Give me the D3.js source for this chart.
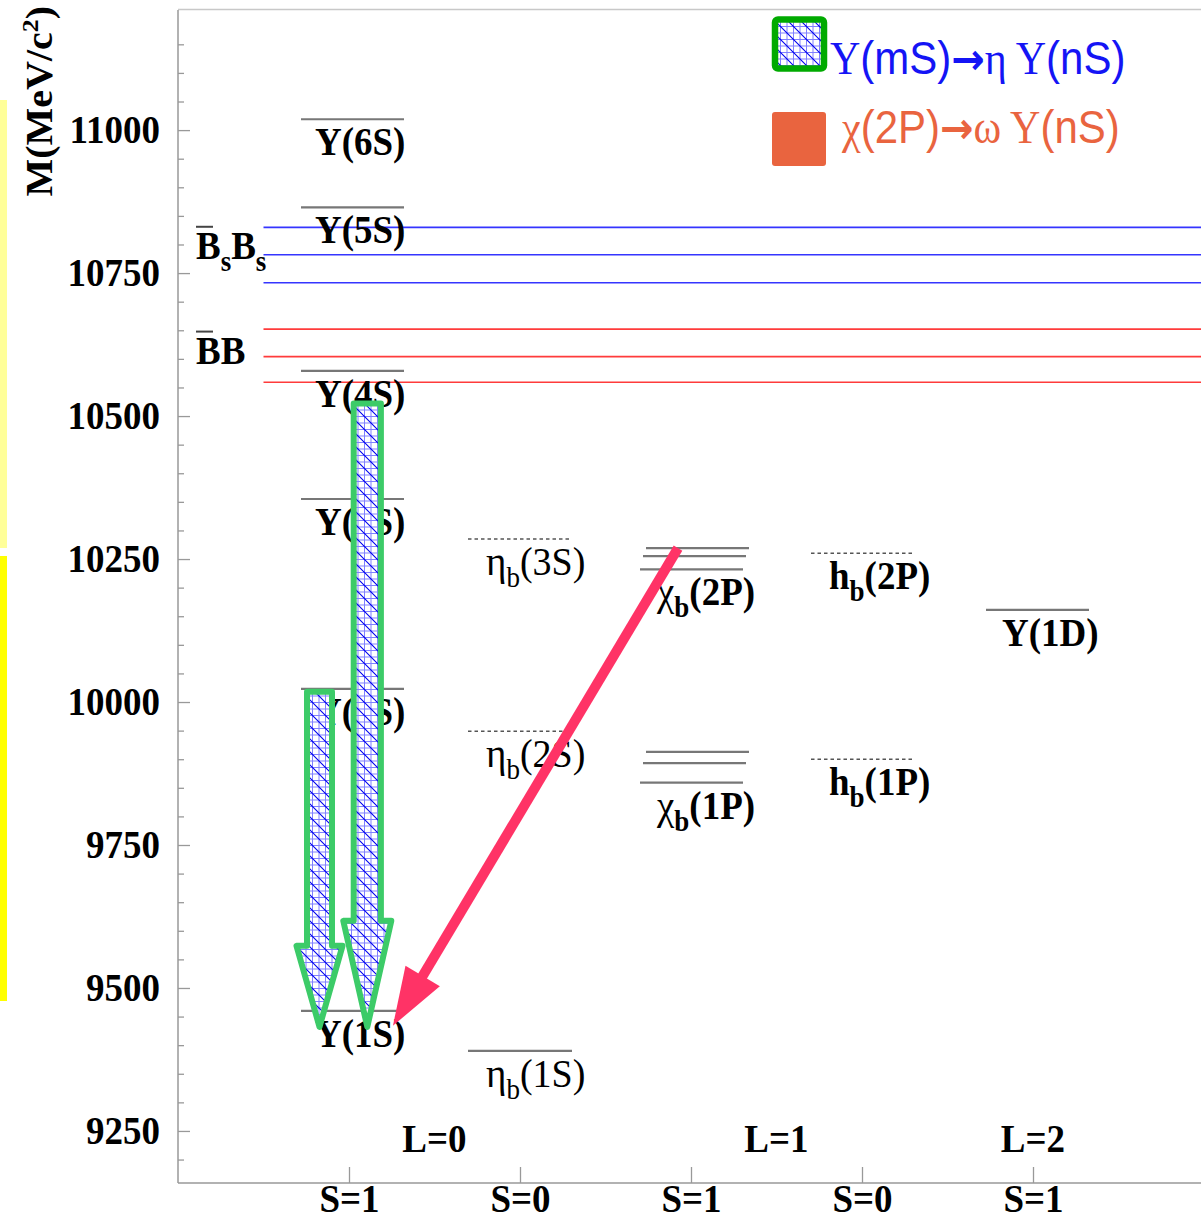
<!DOCTYPE html>
<html>
<head>
<meta charset="utf-8">
<script src="https://cdn.jsdelivr.net/npm/d3@7"></script>
<style>
  html, body { margin: 0; padding: 0; background: #fff; }
  svg { display: block; }
</style>
</head>
<body>
<svg id="chart" width="1201" height="1223"></svg>
<script>
// ---- Bottomonium spectrum data (masses in MeV/c^2) ----
const columnTicks  = [1, 2, 3, 4, 5];
const columnLabels = ["S=1", "S=0", "S=1", "S=0", "S=1"];
const orbitalLabels = ["L=0", "L=1", "L=2"];
const orbitalPos    = [1.5, 3.5, 5];

const massTicksMajor = [9250, 9500, 9750, 10000, 10250, 10500, 10750, 11000];
const massTicksMinor = [9200, 9300, 9350, 9400, 9450, 9550, 9600, 9650, 9700, 9800, 9850, 9900, 9950,
                        10050, 10100, 10150, 10200, 10300, 10350, 10400, 10450, 10550, 10600, 10650,
                        10700, 10800, 10850, 10900, 10950, 11050, 11100, 11150];

const upsilonStates = ["1S", "2S", "3S", "4S", "5S", "6S"];
const upsilonMasses = [9460, 10023, 10355, 10579, 10865, 11019];

const etaStates = ["1S", "2S", "3S"];
const etaMasses = [9390, 9949, 10285];

const chiStates = ["1P", "2P"];
const chiMasses = [[9859, 9893, 9913], [10232, 10255, 10269]];

const hStates = ["1P", "2P"];
const hMasses = [9900, 10260];

const dStates = ["1D"];
const dMasses = [10161];

// open-flavour thresholds
const bsThresholds = [10733, 10782, 10830];
const bThresholds  = [10559, 10604, 10652];

// transitions: Υ(mS) → η Υ(1S) and χb(2P) → ω Υ(1S)
const etaFrom = [10018, 10522];
const etaTo   = [9432, 9432];
const etaPos  = [0.8275, 1.107];
const omegaFrom = [10269];
const omegaFromPos = [2.924];
const omegaTo = [9434];
const omegaToPos = [1.257];

// ---- Layout ----
const W = 1201, H = 1223;
const SERIF = "'Liberation Serif','Times New Roman',serif";
const SANS  = "'Liberation Sans',Arial,Helvetica,sans-serif";
const ARROW = "'DejaVu Sans',sans-serif";
const SY = 1.08;           // glyphs are drawn slightly tall
const FS = 37;             // main label size
const SUB = 27;            // subscript size

const svg = d3.select("#chart");
const x = d3.scaleLinear().domain([0, 6]).range([178, 1204]);
const y = d3.scaleLinear().domain([9159, 11210]).range([1183, 10]);

const defs = svg.append("defs");
const pat = defs.append("pattern").attr("id", "hatch")
  .attr("patternUnits", "userSpaceOnUse").attr("width", 13).attr("height", 13);
pat.append("rect").attr("width", 13).attr("height", 13).attr("fill", "#fff");
pat.append("path").attr("d", "M0,0.5H13M0,7H13M0.5,0V13M7,0V13")
  .attr("stroke", "#8080ff").attr("stroke-width", 1).attr("fill", "none");
pat.append("path").attr("d", "M0,0L13,13M-2,11L2,15M11,-2L15,2")
  .attr("stroke", "#0000f0").attr("stroke-width", 1.1).attr("fill", "none");

// side colour strips
svg.append("rect").attr("x", 0).attr("y", 100).attr("width", 7).attr("height", 448).attr("fill", "#ffff99");
svg.append("rect").attr("x", 0).attr("y", 556).attr("width", 7).attr("height", 445).attr("fill", "#ffff00");

// frame top
svg.append("line").attr("x1", x(0)).attr("x2", W).attr("y1", 9.5).attr("y2", 9.5)
  .attr("stroke", "#c8c8c8").attr("stroke-width", 1.5);

// ---- Axes ----
const yMinor = svg.append("g").attr("transform", `translate(${x(0)},0)`)
  .call(d3.axisLeft(y).tickValues(massTicksMinor).tickSize(-6).tickFormat(""));
const yMajor = svg.append("g").attr("transform", `translate(${x(0)},0)`)
  .call(d3.axisLeft(y).tickValues(massTicksMajor).tickSize(-12).tickPadding(18).tickFormat(d3.format("d")));
[yMinor, yMajor].forEach(g => {
  g.select(".domain").attr("stroke", "#999").attr("stroke-width", 1.5);
  g.selectAll(".tick line").attr("stroke", "#999").attr("stroke-width", 1.3);
});
yMajor.select(".domain").attr("d", `M0,${y.range()[1]}V${y.range()[0]}`);
yMinor.select(".domain").remove();
yMajor.selectAll(".tick text")
  .attr("font-family", SERIF).attr("font-weight", "bold").attr("font-size", FS).attr("fill", "#000")
  .attr("transform", `scale(1,${SY})`);

const xAxis = svg.append("g").attr("transform", `translate(0,${y.range()[0]})`)
  .call(d3.axisBottom(x).tickValues(columnTicks).tickSize(-16).tickPadding(1)
    .tickFormat((d, i) => columnLabels[i]));
xAxis.select(".domain").attr("d", `M${x(0)},0H${W}`).attr("stroke", "#999").attr("stroke-width", 1.5);
xAxis.selectAll(".tick line").attr("stroke", "#999").attr("stroke-width", 1.3);
xAxis.selectAll(".tick text")
  .attr("font-family", SERIF).attr("font-weight", "bold").attr("font-size", FS).attr("fill", "#000")
  .attr("transform", `scale(1,${SY})`);

// axis title
const title = svg.append("text")
  .attr("transform", `translate(52,6) scale(1,${SY}) rotate(-90)`)
  .attr("text-anchor", "end")
  .attr("font-family", SERIF).attr("font-weight", "bold").attr("font-size", FS);
title.append("tspan").text("M(MeV/c");
title.append("tspan").attr("font-size", 24).attr("dy", -14).text("2");
title.append("tspan").attr("dy", 14).text(")");

// ---- Helpers ----
function richText(px, py, parts, opts = {}) {
  const t = svg.append("text")
    .attr("transform", `translate(${px},${py}) scale(1,${SY})`)
    .attr("font-family", opts.family || SERIF)
    .attr("font-size", opts.size || FS)
    .attr("fill", opts.fill || "#000");
  let shift = 0;
  parts.forEach(p => {
    const ts = t.append("tspan").text(p.t);
    if (p.family) ts.attr("font-family", p.family);
    if (p.size) ts.attr("font-size", p.size);
    ts.attr("font-weight", p.bold ? "bold" : "normal");
    const target = p.sub ? 11 : 0;
    if (target !== shift) { ts.attr("dy", target - shift); shift = target; }
    if (p.sub) ts.attr("font-size", SUB);
  });
  return t;
}

function level(col, mass, x0, x1, dashed) {
  svg.append("line")
    .attr("x1", x(col) + x0).attr("x2", x(col) + x1)
    .attr("y1", y(mass)).attr("y2", y(mass))
    .attr("stroke", dashed ? "#555" : "#777")
    .attr("stroke-width", dashed ? 1.4 : 2.2)
    .attr("stroke-dasharray", dashed ? "3.5,3" : null);
}

// ---- Thresholds ----
bsThresholds.forEach(m => svg.append("line")
  .attr("x1", x(0.5)).attr("x2", W).attr("y1", y(m)).attr("y2", y(m))
  .attr("stroke", "#3535ff").attr("stroke-width", 1.6));
bThresholds.forEach(m => svg.append("line")
  .attr("x1", x(0.5)).attr("x2", W).attr("y1", y(m)).attr("y2", y(m))
  .attr("stroke", "#ff3b3b").attr("stroke-width", 1.6));

function thresholdLabel(px, py, parts) {
  richText(px, py, parts);
  svg.append("line").attr("x1", px).attr("x2", px + 17)
    .attr("y1", py - 32).attr("y2", py - 32)
    .attr("stroke", "#444").attr("stroke-width", 2);
}
thresholdLabel(196, y(bsThresholds[1]) + 4,
  [{t: "B", bold: true}, {t: "s", bold: true, sub: true}, {t: "B", bold: true}, {t: "s", bold: true, sub: true}]);
thresholdLabel(196, y(bThresholds[1]) + 7, [{t: "BB", bold: true}]);

// ---- Levels ----
const labelDX = -34, labelDY = 36;

upsilonStates.forEach((s, i) => {
  level(1, upsilonMasses[i], -48, 55, false);
  richText(x(1) + labelDX, y(upsilonMasses[i]) + labelDY, [{t: `Υ(${s})`, bold: true}]);
});

etaStates.forEach((s, i) => {
  level(2, etaMasses[i], -52, 52, i > 0);
  richText(x(2) + labelDX, y(etaMasses[i]) + labelDY,
    [{t: "η", size: 39}, {t: "b", sub: true}, {t: `(${s})`, size: 38}]);
});

const chiOffsets = [[-51, 52], [-48, 55], [-45, 58]];
chiStates.forEach((s, i) => {
  chiMasses[i].forEach((m, j) => level(3, m, chiOffsets[j][0], chiOffsets[j][1], false));
  richText(x(3) + labelDX, y(d3.min(chiMasses[i])) + labelDY,
    [{t: "χ", size: 39}, {t: "b", bold: true, sub: true}, {t: `(${s})`, bold: true}]);
});

hStates.forEach((s, i) => {
  level(4, hMasses[i], -51, 52, true);
  richText(x(4) + labelDX + 1, y(hMasses[i]) + labelDY,
    [{t: "h", bold: true}, {t: "b", bold: true, sub: true}, {t: `(${s})`, bold: true}]);
});

dStates.forEach((s, i) => {
  level(5, dMasses[i], -47, 56, false);
  richText(x(5) + labelDX + 3, y(dMasses[i]) + labelDY, [{t: `Υ(${s})`, bold: true}]);
});

// orbital labels
orbitalLabels.forEach((l, i) => {
  svg.append("text")
    .attr("transform", `translate(${x(orbitalPos[i])},1152) scale(1,${SY})`)
    .attr("text-anchor", "middle")
    .attr("font-family", SERIF).attr("font-weight", "bold").attr("font-size", FS)
    .text(l);
});

// ---- η transitions (hatched arrows) ----
const shaftHalf = [12.5, 13.6], headHalf = [23, 24], headLen = [81, 106];
etaFrom.forEach((m, i) => {
  const cx = x(etaPos[i]), yt = y(m), tip = y(etaTo[i]);
  const yb = tip - headLen[i], w = shaftHalf[i], h = headHalf[i];
  const p = d3.path();
  p.moveTo(cx - w, yt); p.lineTo(cx + w, yt); p.lineTo(cx + w, yb); p.lineTo(cx + h, yb);
  p.lineTo(cx, tip); p.lineTo(cx - h, yb); p.lineTo(cx - w, yb); p.closePath();
  svg.append("path").attr("d", p.toString())
    .attr("fill", "url(#hatch)").attr("stroke", "#3ccb68")
    .attr("stroke-width", 6).attr("stroke-linejoin", "round");
});

// ---- ω transition (solid arrow) ----
omegaFrom.forEach((m, i) => {
  const x0 = x(omegaFromPos[i]), y0 = y(m), x1 = x(omegaToPos[i]), y1 = y(omegaTo[i]);
  const len = Math.hypot(x1 - x0, y1 - y0), ux = (x1 - x0) / len, uy = (y1 - y0) / len;
  const hl = 58, hw = 20;
  const bx = x1 - ux * hl, by = y1 - uy * hl;
  svg.append("line").attr("x1", x0).attr("y1", y0).attr("x2", bx + ux * 4).attr("y2", by + uy * 4)
    .attr("stroke", "#ff3366").attr("stroke-width", 10);
  svg.append("path")
    .attr("d", `M${x1},${y1}L${bx - uy * hw},${by + ux * hw}L${bx + uy * hw},${by - ux * hw}Z`)
    .attr("fill", "#ff3366");
});

// ---- Legend ----
svg.append("rect").attr("x", 775).attr("y", 19.5).attr("width", 49).attr("height", 49).attr("rx", 3)
  .attr("fill", "url(#hatch)").attr("stroke", "#00aa00").attr("stroke-width", 6.5);
richText(830, 74, [
  {t: "Υ"}, {t: "(mS)", family: SANS}, {t: "→", family: ARROW, bold: true, size: 40},
  {t: "η"}, {t: " Υ"}, {t: "(nS)", family: SANS}
], {size: 42, fill: "#1414f5"});

svg.append("rect").attr("x", 772).attr("y", 112).attr("width", 54).attr("height", 54).attr("rx", 3)
  .attr("fill", "#e9643f");
richText(842, 143, [
  {t: "χ"}, {t: "(2P)", family: SANS}, {t: "→", family: ARROW, bold: true, size: 40},
  {t: "ω"}, {t: " Υ"}, {t: "(nS)", family: SANS}
], {size: 42, fill: "#e9643f"});
</script>
</body>
</html>
